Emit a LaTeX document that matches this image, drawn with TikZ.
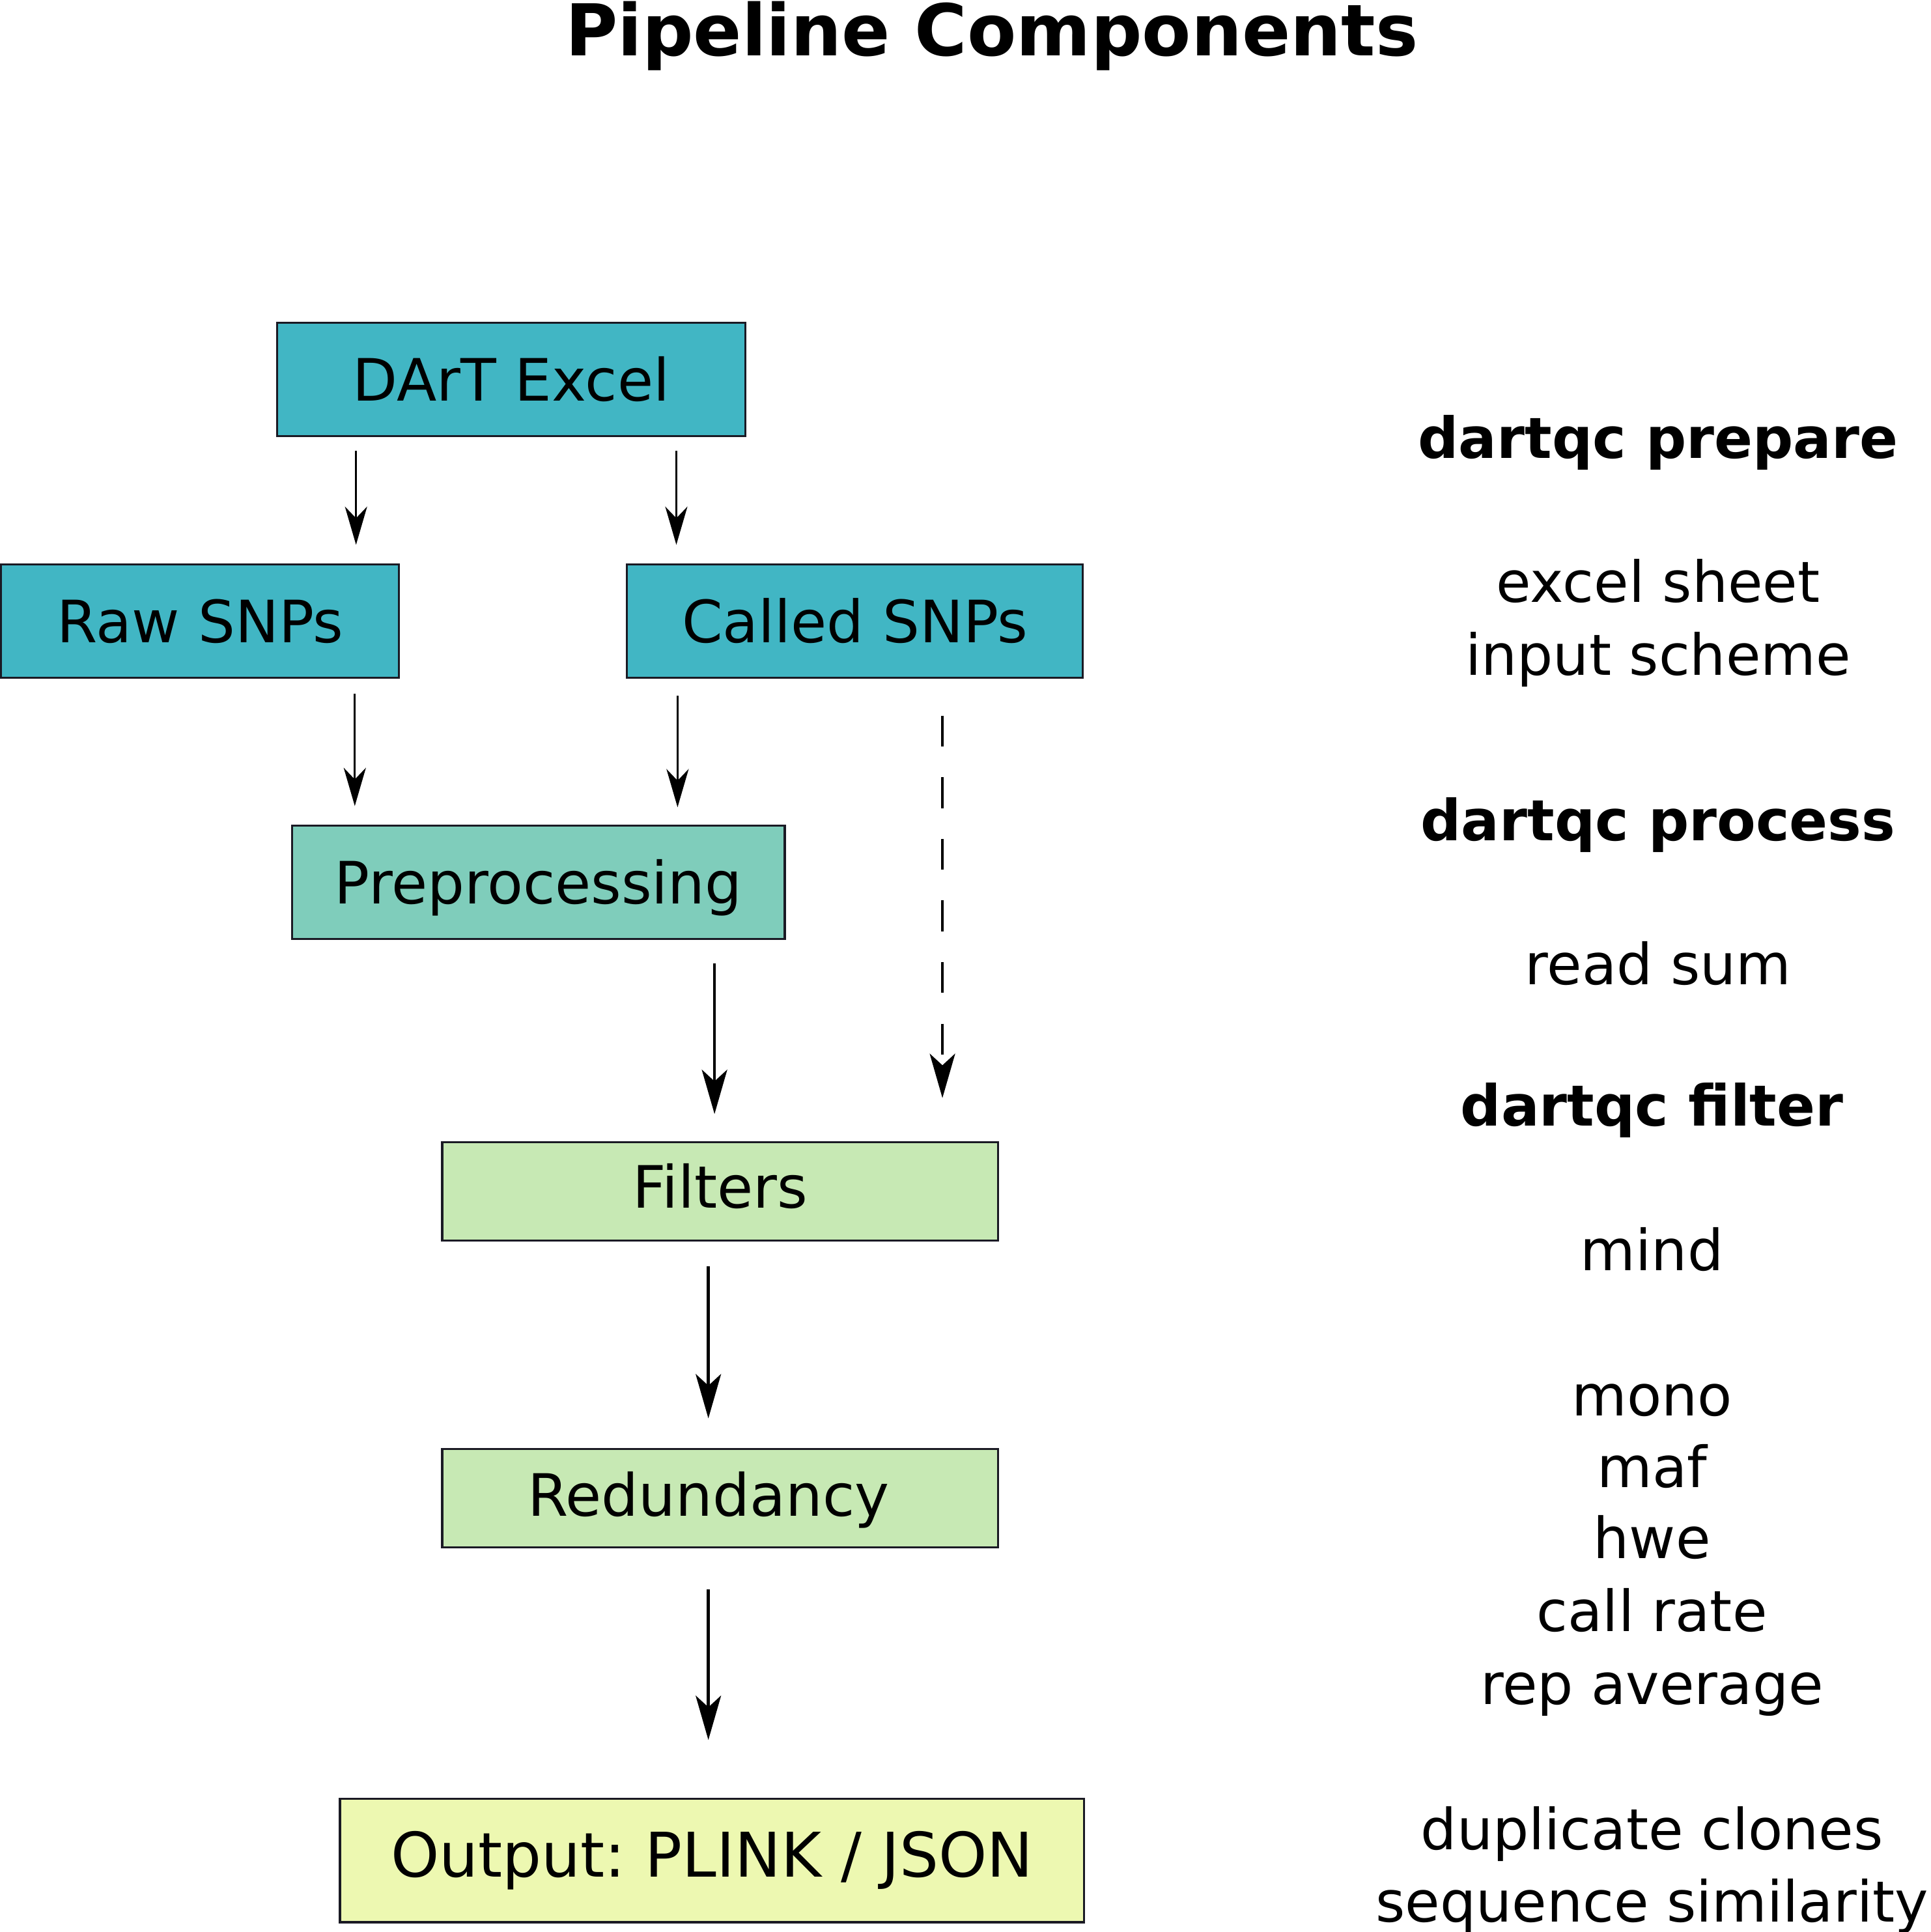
\documentclass[tikz,border=0pt]{standalone}
\usepackage{fontspec}
\setmainfont{DejaVu Sans}
\usetikzlibrary{arrows.meta,calc}
\definecolor{cA}{HTML}{41B6C4}
\definecolor{cB}{HTML}{7FCDBB}
\definecolor{cC}{HTML}{C7E9B4}
\definecolor{cD}{HTML}{EDF8B1}
\definecolor{edge}{HTML}{1A1A24}
\frenchspacing
\begin{document}
\begin{tikzpicture}[x=0.5pt,y=-0.5pt,
  box/.style={draw=edge, line width=0.85pt, inner sep=0pt, text height=17.3pt, text depth=0pt, font=\fontsize{23.7}{28}\selectfont},
  lbl/.style={anchor=base, font=\fontsize{23}{28}\selectfont},
  hd/.style={anchor=base, font=\fontsize{23}{28}\selectfont\bfseries},
  arrS/.style={line width=0.9pt, -{Stealth[length=15.5pt,width=9pt,inset=4.7pt]}},
  arrL/.style={line width=1.2pt, -{Stealth[length=18pt,width=10.3pt,inset=4.7pt]}},
]
\useasboundingbox (0,0) rectangle (1567,1568);

\node[anchor=base, font=\fontsize{29}{34}\selectfont\bfseries] (title) at (805,45) {Pipeline Components};

% boxes
\node[box, fill=cA, minimum width=190pt, minimum height=46pt] (dart) at (415,308) {DArT Excel};
\node[box, fill=cA, minimum width=161.5pt, minimum height=46pt] (raw) at (162.5,504) {Raw SNPs};
\node[box, fill=cA, minimum width=185pt, minimum height=46pt] (called) at (694,504) {Called SNPs};
\node[box, fill=cB, minimum width=200pt, minimum height=46pt] (prep) at (437,716) {Preprocessing};
\node[box, fill=cC, minimum width=225.5pt, minimum height=40pt, text depth=4pt] (filt) at (584.5,967) {Filters};
\node[box, fill=cC, minimum width=225.5pt, minimum height=40pt, text depth=3pt] (red) at (584.5,1216) {Redundancy\hspace*{9.5pt}};
\node[box, fill=cD, minimum width=302pt, minimum height=50pt, text height=18.2pt, text depth=5pt, font=\fontsize{25}{30}\selectfont] (out) at (578,1510) {Output: PLINK / JSON};

% connector x positions
\coordinate (x1) at (289,0);
\coordinate (x2) at (549,0);
\coordinate (x3) at (288,0);
\coordinate (x4) at (550,0);
\coordinate (x5) at (580,0);
\coordinate (x6) at (765,0);
\coordinate (x7) at (575,0);

\draw[arrS, shorten <=5.5pt, shorten >=7.5pt] (dart.south -| x1) -- (raw.north -| x1);
\draw[arrS, shorten <=5.5pt, shorten >=7.5pt] (dart.south -| x2) -- (called.north -| x2);
\draw[arrS, shorten <=6pt, shorten >=7.5pt] (raw.south -| x3) -- (prep.north -| x3);
\draw[arrS, shorten <=7pt, shorten >=7pt] (called.south -| x4) -- (prep.north -| x4);
\draw[arrL, shorten <=9.5pt, shorten >=11pt] (prep.south -| x5) -- (filt.north -| x5);
\draw[arrL, dash pattern=on 12.5pt off 12.5pt, shorten <=15pt, shorten >=17.5pt] (called.south -| x6) -- (filt.north -| x6);
\draw[arrL, shorten <=10pt, shorten >=12pt] (filt.south -| x7) -- (red.north -| x7);
\draw[arrL, shorten <=16.5pt, shorten >=23.5pt] (red.south -| x7) -- (out.north -| x7);

% right column
\node[hd] (h1) at (1346,372) {dartqc prepare};
\node[lbl] (t1) at (1346,489) {excel sheet};
\node[lbl] (t2) at (1346,548) {input scheme};
\node[hd] (h2) at (1346,682) {dartqc process};
\node[lbl] (t3) at (1346,799) {read sum};
\node[hd] (h3) at (1341,914) {dartqc filter};
\node[lbl] (t4) at (1341,1031) {mind};
\node[lbl] (t5) at (1341,1149) {mono};
\node[lbl] (t6) at (1341,1207) {maf};
\node[lbl] (t7) at (1341,1265) {hwe};
\node[lbl] (t8) at (1341,1324) {call rate};
\node[lbl] (t9) at (1341,1383) {rep average};
\node[lbl] (t10) at (1341,1501) {duplicate clones};
\node[lbl] (t11) at (1341,1560) {sequence similarity};
\end{tikzpicture}
\end{document}
